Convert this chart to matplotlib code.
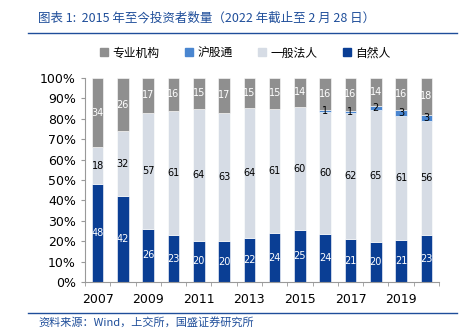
import numpy as np
import matplotlib.pyplot as plt
from matplotlib.lines import Line2D

plt.rcParams['font.family'] = ['Noto Sans CJK SC', 'DejaVu Sans']

years = [str(y) for y in range(2007, 2021)]
ziranren = [48, 42, 26, 23, 20, 20, 22, 24, 25, 24, 21, 20, 21, 23]
yiban = [18, 32, 57, 61, 64, 63, 64, 61, 60, 60, 62, 65, 61, 56]
hugutong = [0, 0, 0, 0, 0, 0, 0, 0, 0, 1, 1, 2, 3, 3]
zhuanye = [34, 26, 17, 16, 15, 17, 15, 15, 14, 16, 16, 14, 16, 18]
tick_labels = ['2007', '2009', '2011', '2013', '2015', '2017', '2019']

c_zr = '#0a3e94'
c_yb = '#d6dce5'
c_hg = '#4a86d0'
c_zy = '#8f8f8f'

series = [(ziranren, c_zr, '自然人', 'white'),
          (yiban, c_yb, '一般法人', 'black'),
          (hugutong, c_hg, '沪股通', 'black'),
          (zhuanye, c_zy, '专业机构', 'white')]

tot = np.array(ziranren) + np.array(yiban) + np.array(hugutong) + np.array(zhuanye)

fig = plt.figure(figsize=(4.7, 3.32), dpi=100)
ax = fig.add_axes([85/470, 1-282/332, 354/470, 204/332])

x = np.arange(len(years))
bottom = np.zeros(len(years))
for vals, col, name, tcol in series:
    v = np.array(vals) / tot * 100
    ax.bar(x, v, 0.46, bottom=bottom, color=col, edgecolor='white', linewidth=0.4)
    for i in range(len(x)):
        if vals[i] > 0:
            ax.text(x[i], bottom[i] + v[i] / 2, str(vals[i]), ha='center', va='center',
                    fontsize=7, color=tcol, family='DejaVu Sans')
    bottom += v

ax.set_xlim(-0.5, len(years) - 0.5)
ax.set_ylim(0, 100)
ax.set_yticks(np.arange(0, 101, 10))
ax.set_yticklabels([f'{t}%' for t in range(0, 101, 10)], fontsize=9, family='DejaVu Sans')
ax.set_xticks(x[::2])
ax.set_xticklabels(tick_labels, fontsize=9, family='DejaVu Sans')
ax.set_xticks(np.arange(-0.5, len(years)), minor=True)
ax.tick_params(axis='x', which='major', length=0, pad=8)
ax.tick_params(axis='x', which='minor', length=3, color='#999999')
ax.tick_params(axis='y', length=3, color='#999999')
for s in ['top', 'right']:
    ax.spines[s].set_visible(False)
for s in ['left', 'bottom']:
    ax.spines[s].set_color('#999999')

handles = [Line2D([], [], marker='s', linestyle='', color=c, markersize=6)
           for c in [c_zy, c_hg, c_yb, c_zr]]
fig.legend(handles, ['专业机构', '沪股通', '一般法人', '自然人'], loc='center',
           bbox_to_anchor=(0.52, 1-53/332), ncol=4, frameon=False, fontsize=8.5,
           handletextpad=0.2, columnspacing=2.0, handlelength=1)

blue = '#1f4e9a'
fig.text(38/470, 1-18/332, '图表 1:  2015 年至今投资者数量（2022 年截止至 2 月 28 日）',
         fontsize=9, color=blue, style='italic', va='center')
fig.add_artist(Line2D([28/470, 457/470], [1-33/332, 1-33/332], color=blue, lw=1))
fig.add_artist(Line2D([28/470, 457/470], [1-313/332, 1-313/332], color=blue, lw=1))
fig.text(38/470, 1-322/332, '资料来源：Wind，上交所，国盛证券研究所', fontsize=8,
         color=blue, style='italic', va='center')

fig.savefig('out.png', dpi=100)
